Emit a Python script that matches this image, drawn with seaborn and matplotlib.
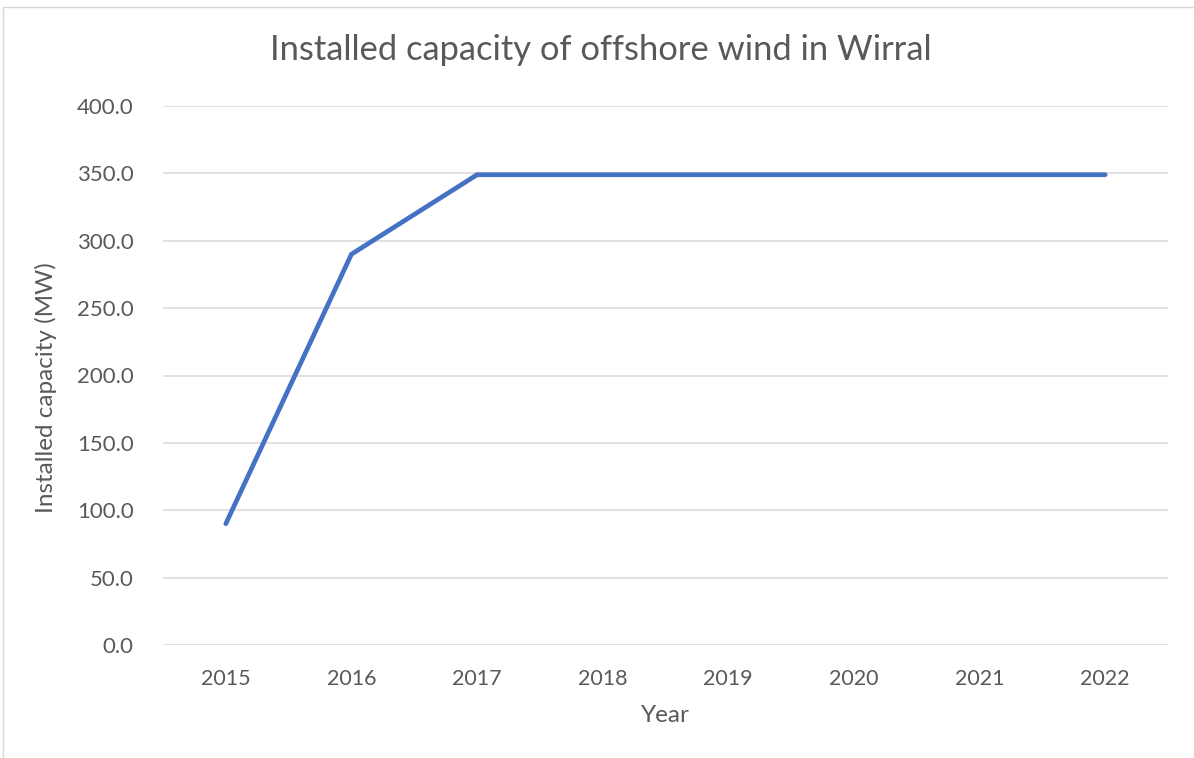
import matplotlib
matplotlib.use("Agg")
import matplotlib.pyplot as plt
import seaborn as sns
import pandas as pd
from matplotlib.lines import Line2D

# data
years = ["2015", "2016", "2017", "2018", "2019", "2020", "2021", "2022"]
capacity = [90, 290, 349, 349, 349, 349, 349, 349]
y_ticks = [0, 50, 100, 150, 200, 250, 300, 350, 400]

df = pd.DataFrame({"Year": years, "Capacity": capacity})

sns.set_style("white")
plt.rcParams["font.family"] = ["Lato", "DejaVu Sans"]

grey = "#595959"

fig = plt.figure(figsize=(11.94, 7.58), dpi=100)
ax = fig.add_axes([163 / 1194, 1 - 645 / 758, (1168 - 163) / 1194, (645 - 106) / 758])

sns.lineplot(data=df, x="Year", y="Capacity", ax=ax, color="#4472C4",
             linewidth=3.4, solid_capstyle="round", solid_joinstyle="miter")

ax.set_xlim(-0.5, len(years) - 0.5)
ax.set_ylim(0, 400)
ax.set_yticks(y_ticks)
ax.set_yticklabels([f"{v:.1f}" for v in y_ticks])
ax.yaxis.grid(True, color="#d9d9d9", linewidth=1.1)
ax.set_axisbelow(True)
for s in ax.spines.values():
    s.set_visible(False)
ax.tick_params(axis="y", length=0, labelsize=16, colors=grey, pad=21)
ax.tick_params(axis="x", length=0, labelsize=15.5, colors=grey, pad=17)

ax.set_xlabel("Year", fontsize=17.5, color=grey, va="center")
ax.xaxis.set_label_coords(0.4995, -0.1317)
ax.set_ylabel("Installed capacity (MW)", fontsize=17.5, color=grey, va="center")
ax.yaxis.set_label_coords(-0.1164, 0.477)
fig.text(601 / 1194, 1 - 50 / 758, "Installed capacity of offshore wind in Wirral",
         ha="center", va="center", fontsize=24.8, color=grey)

# chart frame
fig.add_artist(Line2D([3 / 1194, 3 / 1194], [0, 1 - 7 / 758], color="#d9d9d9", linewidth=1))
fig.add_artist(Line2D([3 / 1194, 1], [1 - 7 / 758, 1 - 7 / 758], color="#d9d9d9", linewidth=1))

fig.savefig("out.png", dpi=100)
